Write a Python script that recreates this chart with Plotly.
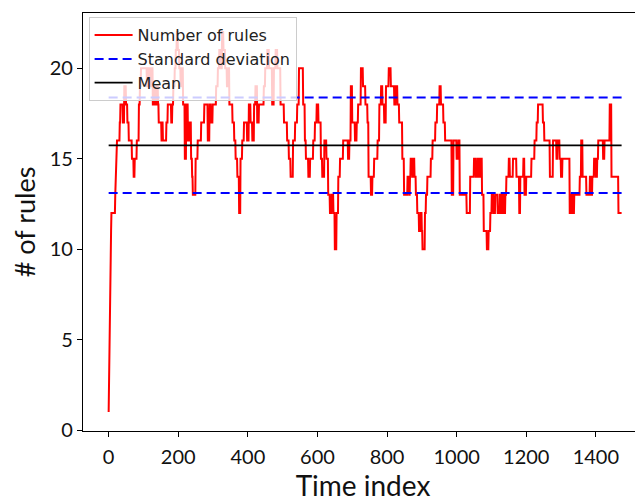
import numpy as np
import plotly.graph_objects as go

# Run-length description of the "Number of rules" series:
# from time index seg_start[i] onward the value is seg_value[i]
seg_start = [0, 1, 2, 3, 4, 5, 6, 8, 19, 20, 21, 24, 32, 34, 41, 45, 50, 54, 58, 67,
             72, 75, 81, 87, 90, 93, 110, 114, 120, 124, 127, 131, 134, 138, 142, 144, 152, 154, 156, 166,
             170, 175, 180, 183, 186, 190, 193, 196, 199, 203, 207, 210, 214, 219, 223, 228, 233, 237, 240, 242,
             250, 256, 266, 275, 285, 290, 294, 299, 309, 314, 318, 323, 326, 330, 335, 340, 345, 347, 356, 361,
             365, 370, 375, 379, 384, 389, 398, 403, 408, 413, 418, 422, 427, 432, 446, 450, 456, 461, 470, 475,
             480, 485, 494, 504, 513, 518, 523, 530, 536, 542, 547, 559, 564, 567, 574, 579, 588, 593, 598, 603,
             610, 614, 620, 626, 631, 636, 641, 646, 650, 655, 660, 665, 674, 688, 692, 696, 700, 708, 713, 717,
             725, 731, 738, 744, 747, 754, 758, 763, 773, 778, 783, 787, 792, 797, 805, 811, 821, 825, 830, 835,
             844, 849, 859, 864, 866, 868, 873, 876, 879, 883, 887, 892, 897, 900, 902, 909, 912, 916, 926, 931,
             939, 944, 951, 955, 962, 967, 986, 991, 1000, 1005, 1009, 1029, 1039, 1050, 1055, 1060, 1064, 1068, 1073, 1078,
             1087, 1092, 1097, 1101, 1106, 1111, 1118, 1124, 1128, 1132, 1136, 1140, 1143, 1150, 1153, 1162, 1172, 1180, 1183, 1192,
             1195, 1200, 1215, 1224, 1230, 1234, 1248, 1252, 1268, 1277, 1287, 1290, 1296, 1300, 1304, 1325, 1330, 1334, 1338, 1354,
             1358, 1362, 1373, 1383, 1387, 1390, 1395, 1400, 1404, 1407, 1421, 1425, 1440, 1445, 1465]
seg_value = [1, 3, 5, 7, 9, 10, 11, 12, 13, 14, 15, 16, 17, 18, 17, 19, 18, 17, 16, 15,
             14, 15, 16, 18, 19, 20, 19, 20, 19, 20, 18, 19, 18, 19, 18, 17, 16, 17, 16, 17,
             18, 18, 17, 18, 19, 20, 21, 22, 21, 20, 19, 20, 18, 15, 18, 16, 17, 15, 14, 13,
             15, 16, 17, 18, 16, 18, 17, 18, 19, 20, 21, 20, 22, 21, 20, 19, 20, 18, 17, 16,
             15, 14, 12, 15, 16, 17, 16, 18, 17, 16, 18, 19, 17, 18, 19, 20, 21, 20, 18, 20,
             21, 20, 18, 17, 16, 15, 14, 16, 17, 18, 20, 18, 16, 15, 14, 15, 16, 17, 18, 17,
             15, 14, 16, 15, 13, 12, 13, 12, 10, 12, 14, 15, 16, 15, 16, 19, 17, 16, 17, 18,
             20, 19, 18, 17, 14, 13, 14, 15, 16, 18, 19, 18, 17, 19, 20, 19, 18, 19, 18, 17,
             15, 13, 14, 13, 14, 15, 14, 15, 14, 13, 12, 11, 12, 11, 10, 12, 13, 14, 15, 16,
             17, 18, 19, 18, 17, 16, 13, 16, 15, 16, 13, 12, 14, 15, 14, 15, 14, 15, 13, 11,
             10, 11, 12, 13, 12, 13, 12, 13, 12, 13, 12, 13, 14, 15, 14, 15, 14, 12, 14, 15,
             13, 14, 15, 16, 17, 18, 17, 16, 14, 16, 15, 16, 15, 14, 15, 12, 13, 12, 13, 14,
             16, 14, 13, 14, 13, 14, 15, 14, 15, 16, 15, 16, 18, 14, 12]
n_points = 1475

mean_value = 15.74
std_value = 2.64

x_tick_values = [0, 200, 400, 600, 800, 1000, 1200, 1400]
y_tick_values = [0, 5, 10, 15, 20]

# expand the step description into one value per time index
rules = np.empty(n_points)
bounds = seg_start + [n_points]
for i, v in enumerate(seg_value):
    rules[bounds[i]:bounds[i + 1]] = v
time_index = np.arange(n_points)

fig = go.Figure()
fig.add_trace(go.Scatter(x=time_index, y=rules, mode="lines", name="Number of rules",
                         line=dict(color="#ff0000", width=2), legendgroup="a"))
fig.add_trace(go.Scatter(x=[0, n_points - 1], y=[mean_value + std_value] * 2, mode="lines",
                         name="Standard deviation", legendgroup="b",
                         line=dict(color="#0000ff", width=2, dash="9px,5px")))
fig.add_trace(go.Scatter(x=[0, n_points - 1], y=[mean_value - std_value] * 2, mode="lines",
                         showlegend=False, legendgroup="b",
                         line=dict(color="#0000ff", width=2, dash="9px,5px")))
fig.add_trace(go.Scatter(x=[0, n_points - 1], y=[mean_value] * 2, mode="lines", name="Mean",
                         legendgroup="c", line=dict(color="#000000", width=1.8)))

font_family = "Lato, Carlito, sans-serif"
tick_font = dict(family=font_family, size=20, color="#111111")
fig.update_layout(
    width=635, height=494,
    margin=dict(l=75, r=0, t=5, b=68),
    paper_bgcolor="white", plot_bgcolor="white",
    showlegend=True,
    legend=dict(x=0.01, y=0.99, xanchor="left", yanchor="top",
                bgcolor="rgba(255,255,255,0.8)", bordercolor="#cccccc", borderwidth=1,
                font=dict(family="DejaVu Sans", size=16, color="#222222"),
                traceorder="grouped", tracegroupgap=0, itemwidth=38),
    xaxis=dict(range=[-73.7, 1535.5], tickvals=x_tick_values, showgrid=False, zeroline=False,
               showline=True, linecolor="black", linewidth=1.2, mirror=True,
               ticks="outside", ticklen=5, tickcolor="black", tickfont=tick_font,
               ticklabelstandoff=3,
               title=dict(text="Time index", font=dict(family=font_family, size=28, color="#111111"), standoff=14)),
    yaxis=dict(range=[-0.05, 23.05], tickvals=y_tick_values, showgrid=False, zeroline=False,
               showline=True, linecolor="black", linewidth=1.2, mirror=False,
               ticks="outside", ticklen=5, tickcolor="black", tickfont=tick_font,
               title=dict(text="# of rules", font=dict(family=font_family, size=27, color="#111111"), standoff=8)),
)

fig.write_html("out.html")
